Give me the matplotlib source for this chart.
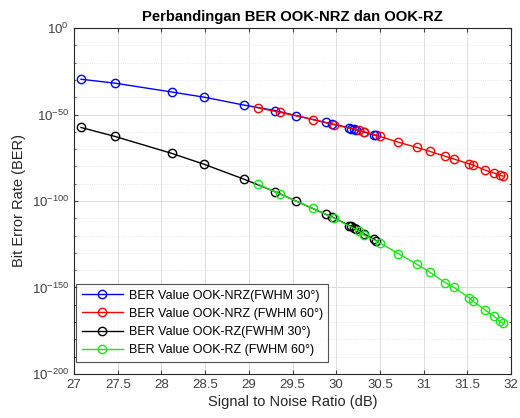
import numpy as np
import matplotlib
matplotlib.use("Agg")
import matplotlib.pyplot as plt
from matplotlib.ticker import FixedLocator, LogFormatterMathtext, NullFormatter

plt.rcParams['font.family'] = ['Liberation Sans', 'DejaVu Sans']
plt.rcParams['mathtext.fontset'] = 'custom'
plt.rcParams['mathtext.rm'] = 'Liberation Sans'

# SNR (dB) and log10(BER)
snr_nrz30 = [27.08, 27.47, 28.12, 28.49, 28.94, 29.30, 29.54, 29.88, 29.95,
             30.15, 30.17, 30.20, 30.23, 30.32, 30.43, 30.46]
logber_nrz30 = [-29.6, -31.9, -37.0, -40.0, -44.5, -47.7, -50.6, -54.6, -55.4,
                -57.7, -58.1, -58.5, -58.9, -60.2, -61.8, -62.1]

snr_nrz60 = [29.11, 29.36, 29.73, 29.97, 30.26, 30.32, 30.50, 30.71, 30.92,
             31.07, 31.25, 31.35, 31.52, 31.56, 31.70, 31.81, 31.87, 31.91]
logber_nrz60 = [-46.2, -48.8, -52.9, -55.8, -59.1, -59.9, -62.7, -66.0, -69.0,
                -71.3, -74.2, -75.8, -78.5, -79.1, -82.1, -83.9, -85.2, -85.6]

snr_rz30 = [27.08, 27.47, 28.12, 28.49, 28.94, 29.30, 29.54, 29.88, 29.95,
            30.15, 30.17, 30.20, 30.23, 30.32, 30.43, 30.46]
logber_rz30 = [-57.5, -62.7, -72.5, -78.8, -87.3, -94.6, -100.0, -107.7, -109.1,
               -114.2, -114.6, -115.4, -116.1, -119.0, -122.1, -122.9]

snr_rz60 = [29.11, 29.36, 29.73, 29.97, 30.26, 30.32, 30.50, 30.71, 30.92,
            31.07, 31.25, 31.35, 31.52, 31.56, 31.70, 31.81, 31.87, 31.91]
logber_rz60 = [-90.4, -96.1, -104.2, -109.8, -117.3, -119.8, -124.2, -130.4, -136.5,
               -141.1, -147.3, -150.0, -155.9, -157.7, -162.9, -166.7, -169.6, -170.8]

labels = ['BER Value OOK-NRZ(FWHM 30°)', 'BER Value OOK-NRZ (FWHM 60°)',
          'BER Value OOK-RZ(FWHM 30°)', 'BER Value OOK-RZ (FWHM 60°)']
colors = ['#0000ff', '#ff0000', '#000000', '#19e619']
xticks = [27, 27.5, 28, 28.5, 29, 29.5, 30, 30.5, 31, 31.5, 32]

fig = plt.figure(figsize=(5.2, 4.18), dpi=100)
ax = fig.add_axes([0.1423, 0.1053, 0.8404, 0.8277])

series = [(snr_nrz30, logber_nrz30), (snr_nrz60, logber_nrz60),
          (snr_rz30, logber_rz30), (snr_rz60, logber_rz60)]
for (x, ly), c, lab in zip(series, colors, labels):
    ax.plot(x, 10.0 ** np.array(ly), '-o', color=c, lw=1.0, ms=6.0,
            mfc='none', mec=c, mew=1.0, label=lab)

ax.set_yscale('log')
ax.set_xlim(27, 32)
ax.set_ylim(1e-200, 1e0)
ax.set_xticks(xticks)
ax.set_xticklabels([f'{t:g}' for t in xticks])
ax.yaxis.set_major_locator(FixedLocator([10.0 ** k for k in range(-200, 1, 50)]))
ax.yaxis.set_major_formatter(LogFormatterMathtext())
ax.yaxis.set_minor_locator(FixedLocator([10.0 ** k for k in range(-200, 1, 10)]))
ax.yaxis.set_minor_formatter(NullFormatter())

ax.grid(True, which='major', color='#dddddd', lw=0.7, ls='-')
ax.grid(True, which='minor', axis='y', color='#e0e0e0', lw=0.6, ls=':')
ax.set_axisbelow(True)
ax.tick_params(which='both', direction='in', top=True, right=True,
               colors='#404040', labelsize=9.5, length=3)
ax.tick_params(which='minor', length=1.5)
for s in ax.spines.values():
    s.set_color('#262626')
    s.set_linewidth(0.8)

ax.set_xlabel('Signal to Noise Ratio (dB)', fontsize=10.5, color='#262626', labelpad=3)
ax.set_ylabel('Bit Error Rate (BER)', fontsize=10.5, color='#262626', labelpad=4)
ax.set_title('Perbandingan BER OOK-NRZ dan OOK-RZ', fontsize=10.7, fontweight='bold', pad=5)

leg = ax.legend(loc='lower left', bbox_to_anchor=(0.005, 0.035), fontsize=9,
                frameon=True, fancybox=False, edgecolor='#262626',
                handlelength=3.3, handletextpad=0.45, borderpad=0.45,
                labelspacing=0.5, borderaxespad=0.0)
leg.get_frame().set_linewidth(0.8)

fig.savefig('out.png', dpi=100)
